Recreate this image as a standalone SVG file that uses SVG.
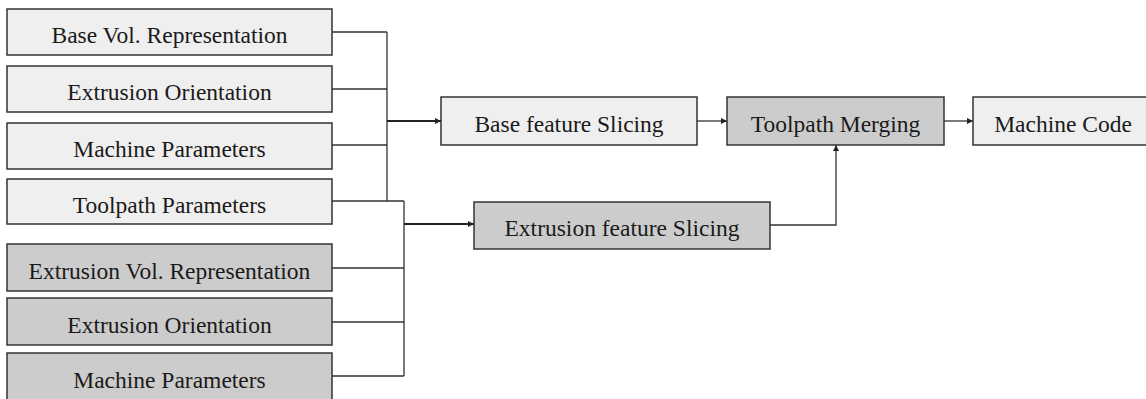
<svg xmlns="http://www.w3.org/2000/svg" width="1146" height="399" viewBox="0 0 1146 399">
<style>
.box{stroke:#333;stroke-width:1.5}
.light{fill:#efefef}
.dark{fill:#cccccc}
text{font-family:"Liberation Serif","Times New Roman",serif;font-size:23.5px;fill:#1a1a1a;text-anchor:middle}
.c{fill:none;stroke:#333;stroke-width:1.3}
.t{fill:none;stroke:#222;stroke-width:1.8}
</style>
<defs>
<marker id="ah" viewBox="0 0 10 10" refX="10" refY="5" markerWidth="7" markerHeight="6" markerUnits="userSpaceOnUse" orient="auto">
<path d="M0,0 L10,5 L0,10 z" fill="#222"/>
</marker>
</defs>
<rect width="1146" height="399" fill="#fff"/>
<g id="base-vol"><rect class="box light" x="7" y="9" width="325" height="46"/><text x="169.5" y="43">Base Vol. Representation</text></g>
<g id="ext-orient-1"><rect class="box light" x="7" y="66" width="325" height="46"/><text x="169.5" y="100">Extrusion Orientation</text></g>
<g id="machine-params-1"><rect class="box light" x="7" y="123" width="325" height="46"/><text x="169.5" y="157">Machine Parameters</text></g>
<g id="toolpath-params"><rect class="box light" x="7" y="179" width="325" height="45"/><text x="169.5" y="213">Toolpath Parameters</text></g>
<g id="ext-vol"><rect class="box dark" x="7" y="244" width="325" height="47"/><text x="169.5" y="279">Extrusion Vol. Representation</text></g>
<g id="ext-orient-2"><rect class="box dark" x="7" y="298" width="325" height="47"/><text x="169.5" y="333">Extrusion Orientation</text></g>
<g id="machine-params-2"><rect class="box dark" x="7" y="353" width="325" height="52"/><text x="169.5" y="388">Machine Parameters</text></g>
<g id="base-slicing"><rect class="box light" x="441" y="97" width="256" height="48"/><text x="569" y="132">Base feature Slicing</text></g>
<g id="ext-slicing"><rect class="box dark" x="474" y="202" width="296" height="47"/><text x="622" y="236">Extrusion feature Slicing</text></g>
<g id="toolpath-merging"><rect class="box dark" x="727" y="97" width="217" height="48"/><text x="835.5" y="132">Toolpath Merging</text></g>
<g id="machine-code"><rect class="box light" x="973" y="97" width="180" height="48"/><text x="1063" y="132">Machine Code</text></g>
<g id="connectors">
<path class="c" d="M332,32 H387 M332,89 H387 M332,145 H387 M332,201 H404 M387,32 V201"/>
<path class="t" d="M387,121 H441" marker-end="url(#ah)"/>
<path class="c" d="M332,268 H404 M332,322 H404 M332,376 H404 M404,201 V376"/>
<path class="t" d="M404,224 H474" marker-end="url(#ah)"/>
<path class="c" d="M697,121 H727" marker-end="url(#ah)"/>
<path class="c" d="M944,121 H973" marker-end="url(#ah)"/>
<path class="c" d="M770,225 H836 V145" marker-end="url(#ah)"/>
</g>
</svg>
